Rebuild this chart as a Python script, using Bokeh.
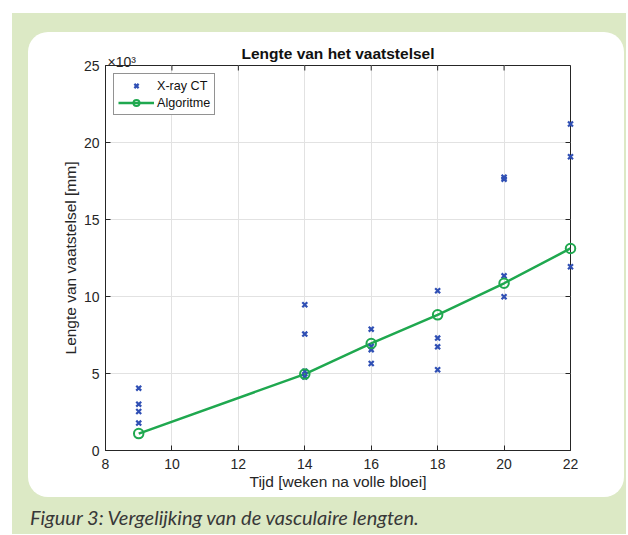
from bokeh.plotting import figure
from bokeh.layouts import column
from bokeh.models import (Range1d, FixedTicker, Legend, LegendItem, Label, Div,
                          CustomJSTickFormatter)
from bokeh.embed import file_html
from bokeh.resources import INLINE

# ---- data ----
weeks_ct = [9, 9, 9, 9, 14, 14, 14, 14, 16, 16, 16, 16, 18, 18, 18, 18, 20, 20, 20, 20, 22, 22, 22]
length_ct = [4050, 3010, 2530, 1780, 9460, 7560, 5150, 4780, 7880, 6750, 6550, 5650,
             10370, 7300, 6730, 5240, 17750, 17620, 11340, 9980, 21200, 19070, 11930]
weeks_alg = [9, 14, 16, 18, 20, 22]
length_alg = [1100, 4960, 6950, 8810, 10860, 13120]
x_ticks = [8, 10, 12, 14, 16, 18, 20, 22]
y_ticks = [0, 5000, 10000, 15000, 20000, 25000]

FONT = "Liberation Sans"
BLUE = "#2f4fb4"
GREEN = "#1fa84f"
BG_GREEN = "#dce9c5"
AX = "#262626"

FW, FH = 465, 385
p = figure(frame_width=FW, frame_height=FH,
           min_border_left=77, min_border_right=54, min_border_top=33, min_border_bottom=47,
           x_range=Range1d(x_ticks[0], x_ticks[-1]), y_range=Range1d(y_ticks[0], y_ticks[-1]),
           output_backend="svg", toolbar_location=None,
           border_fill_color=None, background_fill_color="white",
           outline_line_color=AX, outline_line_width=1)
p.styles = {"background-color": "white", "border-radius": "20px"}
p.margin = (19, 0, 0, 16)

# title
p.title.text = "Lengte van het vaatstelsel"
p.title.align = "center"
p.title.text_font = FONT
p.title.text_font_style = "bold"
p.title.text_font_size = "15.5px"
p.title.text_color = "#111111"
p.title.standoff = 7

# axes
xa = p.xaxis[0]
ya = p.yaxis[0]
xa.ticker = FixedTicker(ticks=x_ticks)
ya.ticker = FixedTicker(ticks=y_ticks)
ya.formatter = CustomJSTickFormatter(code="return (tick/1000).toFixed(0);")
xa.axis_label = "Tijd [weken na volle bloei]"
ya.axis_label = "Lengte van vaatstelsel [mm]"
for ax in (xa, ya):
    ax.axis_line_color = AX
    ax.major_tick_line_color = AX
    ax.major_tick_in = 5
    ax.major_tick_out = 0
    ax.minor_tick_line_color = None
    ax.major_label_text_font = FONT
    ax.major_label_text_font_size = "14px"
    ax.major_label_text_color = AX
    ax.axis_label_text_font = FONT
    ax.axis_label_text_font_size = "15.5px"
    ax.axis_label_text_font_style = "normal"
    ax.axis_label_text_color = AX
xa.major_label_standoff = 8
xa.axis_label_standoff = 1
ya.major_label_standoff = 6
ya.axis_label_standoff = 2

p.xgrid.ticker = FixedTicker(ticks=x_ticks)
p.ygrid.ticker = FixedTicker(ticks=y_ticks)
p.grid.grid_line_color = "#e2e2e2"
p.grid.grid_line_width = 1

# inward ticks on the top and right box edges (MATLAB "box on")
dx = 5 * (x_ticks[-1] - x_ticks[0]) / FW
dy = 5 * (y_ticks[-1] - y_ticks[0]) / FH
p.segment(x0=[x_ticks[-1]] * len(y_ticks), y0=y_ticks,
          x1=[x_ticks[-1] - dx] * len(y_ticks), y1=y_ticks, line_color=AX, line_width=1)
p.segment(x0=x_ticks, y0=[y_ticks[-1]] * len(x_ticks),
          x1=x_ticks, y1=[y_ticks[-1] - dy] * len(x_ticks), line_color=AX, line_width=1)

# data marks
r_ct = p.scatter(weeks_ct, length_ct, marker="x", size=7, line_width=2.2, color=BLUE,
                 level="annotation")
r_line = p.line(weeks_alg, length_alg, line_width=2.5, color=GREEN)
r_circ = p.scatter(weeks_alg, length_alg, marker="circle", size=9.5, line_width=2,
                   line_color=GREEN, fill_color=None, level="annotation")

legend = Legend(items=[LegendItem(label="X-ray CT", renderers=[r_ct]),
                       LegendItem(label="Algoritme", renderers=[r_line, r_circ])],
                location="top_left", margin=8, padding=4, spacing=2,
                glyph_width=36, glyph_height=15, label_height=15, label_standoff=3,
                label_text_font=FONT, label_text_font_size="12.6px", label_text_color="#111111",
                border_line_color=AX, border_line_width=1, background_fill_color="white",
                background_fill_alpha=1)
p.add_layout(legend)

# exponent label (in the left panel so it is not clipped to the frame)
p.add_layout(Label(x=79, y=29, x_units="canvas", y_units="canvas", text="×10³",
                   text_font=FONT, text_font_size="14px", text_color=AX,
                   text_baseline="alphabetic", text_align="left"), "left")

# caption
cap = Div(text="Figuur 3: Vergelijking van de vasculaire lengten.", width=596, height=29,
          margin=(8, 0, 0, 18),
          styles={"font-family": "Lato", "font-style": "italic", "font-size": "20px",
                  "color": "#383838", "line-height": "1.2", "white-space": "nowrap"})

root = column(p, cap, spacing=0, width=614, height=521, margin=(13, 0, 0, 12),
              styles={"background-color": BG_GREEN})

open("out.html", "w").write(file_html(root, INLINE))
